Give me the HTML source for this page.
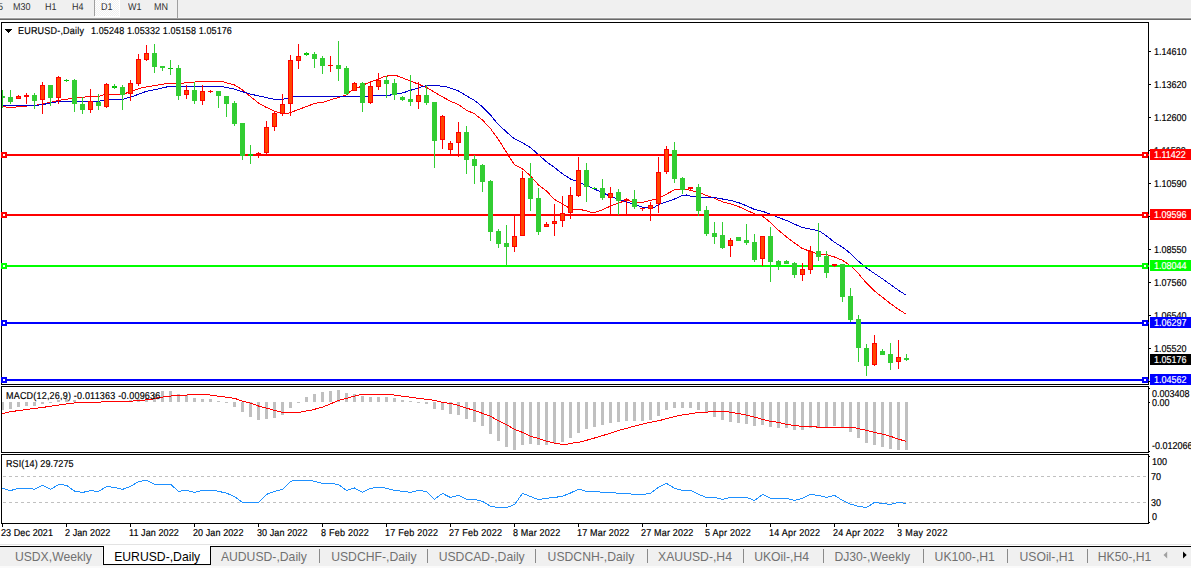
<!DOCTYPE html>
<html><head><meta charset="utf-8"><title>EURUSD-,Daily</title>
<style>
html,body{margin:0;padding:0;background:#fff;}
html{overflow:hidden;width:1191px;height:568px;}
#root{position:absolute;left:0;top:0;width:1191px;height:568px;overflow:hidden;}
body{width:1191px;height:568px;overflow:hidden;position:relative;font-family:"Liberation Sans",sans-serif;}
.t{position:absolute;white-space:nowrap;line-height:1.2;font-family:"Liberation Sans",sans-serif;}
.g{text-rendering:geometricPrecision;-webkit-text-stroke:0.18px currentColor;}
svg{position:absolute;left:0;top:0;}
#tb{position:absolute;left:0;top:0;width:1191px;height:17px;background:#f0f0f0;}
#tbl1{position:absolute;left:0;top:17px;width:1191px;height:1px;background:#f6f6f6;}
#tbl2{position:absolute;left:0;top:18px;width:1191px;height:1px;background:#a0a0a0;}
#tbl3{position:absolute;left:0;top:19px;width:1191px;height:1px;background:#696969;}
#d1{position:absolute;left:95px;top:0;width:24px;height:16px;background-color:#f0f0f0;background-image:conic-gradient(#fff 25%,#f0f0f0 0 50%,#fff 0 75%,#f0f0f0 0);background-size:2px 2px;border-right:1px solid #fff;border-bottom:1px solid #fff;}
.vs{position:absolute;top:0;width:1px;background:#a0a0a0;}
#tabbar{position:absolute;left:0;top:547px;width:1191px;height:19px;background:#f0f0f0;}
#tabline{position:absolute;left:0;top:546px;width:1191px;height:1px;background:#000;}
#tabl0{position:absolute;left:0;top:544px;width:1191px;height:1px;background:#e3e3e3;}
#tabbot{position:absolute;left:0;top:566px;width:1191px;height:2px;background:#fafafa;}
#act{position:absolute;left:103px;top:546px;width:106px;height:18px;background:#fff;border:1px solid #000;border-top:none;}
#actw{position:absolute;left:104px;top:545px;width:106px;height:2px;background:#fff;}
#actgap{position:absolute;left:102px;top:547px;width:1px;height:18px;background:#f8f8f8;}
</style></head><body><div id="root">
<div id="tb"></div><div id="tbl1"></div><div id="tbl2"></div><div id="tbl3"></div>
<div id="d1"></div>
<div class="vs" style="left:94px;height:16px"></div><div class="vs" style="left:177px;height:18px"></div>
<svg id="g1" width="1191" height="568" viewBox="0 0 1191 568" shape-rendering="crispEdges">
<rect x="1" y="22" width="1148" height="1" fill="#000"/>
<rect x="1" y="384" width="1148" height="1" fill="#000"/>
<rect x="1" y="22" width="1" height="363" fill="#000"/>
<rect x="1148" y="22" width="1" height="363" fill="#000"/>
<rect x="1" y="386" width="1148" height="1" fill="#000"/>
<rect x="1" y="452" width="1148" height="1" fill="#000"/>
<rect x="1" y="386" width="1" height="67" fill="#000"/>
<rect x="1148" y="386" width="1" height="67" fill="#000"/>
<rect x="1" y="454" width="1148" height="1" fill="#000"/>
<rect x="1" y="523" width="1148" height="1" fill="#000"/>
<rect x="1" y="454" width="1" height="70" fill="#000"/>
<rect x="1148" y="454" width="1" height="70" fill="#000"/>
<clipPath id="c1"><rect x="2" y="23" width="1146" height="361"/></clipPath>
<g clip-path="url(#c1)">
<polyline points="2.5,106.5 10.5,107.6 20.5,106.5 34.5,105.4 42.5,104.0 50.5,102.3 58.5,100.4 66.5,99.3 74.5,97.6 82.5,97.2 90.5,96.6 98.5,96.6 106.5,94.0 122.5,94.0 130.5,92.0 138.5,88.7 146.5,86.8 150.5,86.3 158.5,85.0 166.5,83.5 174.5,83.2 182.5,83.2 190.5,82.4 206.5,81.1 220.5,81.1 226.5,82.8 234.5,85.0 242.5,89.9 250.5,96.6 258.5,103.0 266.5,107.5 274.5,111.1 278.5,112.5 282.5,114.0 286.5,113.7 290.5,112.5 298.5,109.5 306.5,106.5 310.5,105.0 314.5,103.2 322.5,102.5 330.5,99.7 338.5,97.6 343.5,95.9 346.5,94.8 350.5,91.3 354.5,89.2 358.5,87.5 362.5,85.6 366.5,83.5 370.5,82.0 374.5,80.4 378.5,79.0 382.5,77.2 386.5,76.2 390.5,75.4 394.5,75.4 398.5,76.2 402.5,77.9 410.5,81.0 418.5,84.2 426.5,87.4 434.5,92.2 442.5,96.9 450.5,101.2 458.5,104.6 466.5,110.3 474.5,113.8 482.5,120.1 490.5,128.6 498.5,139.6 506.5,152.4 510.5,158.8 514.5,164.6 522.5,168.9 530.5,175.9 538.5,185.0 546.5,191.0 554.5,199.5 562.5,203.9 570.5,209.0 574.5,209.4 578.5,209.2 586.5,210.8 590.5,212.1 594.5,212.5 598.5,211.1 602.5,209.7 610.5,206.1 618.5,203.0 626.5,200.4 630.5,201.1 634.5,202.5 642.5,202.5 650.5,200.4 658.5,198.3 666.5,194.1 674.5,189.9 678.5,189.2 686.5,189.2 690.5,190.6 698.5,192.0 706.5,195.5 714.5,198.3 722.5,201.8 730.5,203.8 738.5,206.5 746.5,210.2 754.5,213.8 762.5,216.2 770.5,222.5 778.5,230.3 786.5,236.9 794.5,243.0 802.5,248.6 806.5,250.0 810.5,251.1 814.5,252.8 818.5,254.2 826.5,254.6 834.5,257.0 842.5,260.3 850.5,265.8 858.5,273.7 866.5,283.2 874.5,291.0 882.5,297.3 890.5,303.7 898.5,309.3 906.5,314.4" fill="none" stroke="#ff0000" stroke-width="1"/>
<polyline points="2.5,105.8 34.5,105.8 50.5,103.2 58.5,101.4 98.5,101.4 106.5,99.3 122.5,99.3 130.5,97.2 146.5,91.3 150.5,90.6 158.5,88.9 166.5,87.0 170.5,86.3 220.5,86.3 226.5,87.5 234.5,89.2 242.5,91.7 250.5,94.1 258.5,95.9 266.5,97.6 274.5,99.3 282.5,99.3 286.5,98.7 290.5,96.9 296.5,96.2 372.5,96.2 374.5,95.0 390.5,95.0 394.5,94.0 402.5,93.0 410.5,90.3 418.5,88.0 422.5,86.6 426.5,85.6 430.5,85.4 444.5,86.3 450.5,88.2 458.5,91.0 466.5,95.8 474.5,100.4 482.5,106.8 490.5,115.0 494.5,120.1 498.5,124.4 506.5,132.1 514.5,138.9 522.5,142.7 530.5,147.6 538.5,154.7 546.5,161.8 554.5,167.5 562.5,173.8 570.5,179.0 578.5,182.1 586.5,185.6 594.5,189.2 602.5,192.5 610.5,196.5 618.5,199.3 626.5,201.8 634.5,204.6 642.5,207.2 650.5,207.9 654.5,207.2 658.5,204.6 666.5,201.8 674.5,199.0 682.5,195.5 686.5,195.0 690.5,196.2 698.5,196.2 702.5,197.6 714.5,197.6 722.5,199.0 730.5,200.4 738.5,202.6 746.5,205.8 754.5,209.4 762.5,211.3 770.5,214.1 778.5,217.6 786.5,220.4 794.5,224.2 802.5,227.5 810.5,229.2 818.5,230.7 822.5,233.1 826.5,235.9 834.5,242.3 842.5,247.2 850.5,253.5 858.5,261.3 866.5,268.0 874.5,273.6 882.5,278.8 890.5,284.6 898.5,290.3 906.5,295.5" fill="none" stroke="#0000cd" stroke-width="1"/>
</g>
<rect x="1" y="154" width="1148" height="2" fill="#ff0000"/>
<rect x="1" y="152" width="6" height="6" fill="#ff0000"/>
<rect x="3" y="154" width="2" height="2" fill="#fff"/>
<rect x="1142" y="152" width="6" height="6" fill="#ff0000"/>
<rect x="1144" y="154" width="2" height="2" fill="#fff"/>
<rect x="1" y="214" width="1148" height="2" fill="#ff0000"/>
<rect x="1" y="212" width="6" height="6" fill="#ff0000"/>
<rect x="3" y="214" width="2" height="2" fill="#fff"/>
<rect x="1142" y="212" width="6" height="6" fill="#ff0000"/>
<rect x="1144" y="214" width="2" height="2" fill="#fff"/>
<rect x="1" y="265" width="1148" height="2" fill="#00ff00"/>
<rect x="1" y="263" width="6" height="6" fill="#00ff00"/>
<rect x="3" y="265" width="2" height="2" fill="#fff"/>
<rect x="1142" y="263" width="6" height="6" fill="#00ff00"/>
<rect x="1144" y="265" width="2" height="2" fill="#fff"/>
<rect x="1" y="322" width="1148" height="2" fill="#0000ff"/>
<rect x="1" y="320" width="6" height="6" fill="#0000ff"/>
<rect x="3" y="322" width="2" height="2" fill="#fff"/>
<rect x="1142" y="320" width="6" height="6" fill="#0000ff"/>
<rect x="1144" y="322" width="2" height="2" fill="#fff"/>
<rect x="1" y="379" width="1148" height="2" fill="#0000ff"/>
<rect x="1" y="377" width="6" height="6" fill="#0000ff"/>
<rect x="3" y="379" width="2" height="2" fill="#fff"/>
<rect x="1142" y="377" width="6" height="6" fill="#0000ff"/>
<rect x="1144" y="379" width="2" height="2" fill="#fff"/>
<g clip-path="url(#c1)">
<rect x="2" y="90" width="1" height="18" fill="#32cd32"/>
<rect x="0" y="96" width="5" height="2" fill="#32cd32"/>
<rect x="10" y="90" width="1" height="14" fill="#32cd32"/>
<rect x="8" y="97" width="5" height="5" fill="#32cd32"/>
<rect x="18" y="95" width="1" height="4" fill="#ff0000"/>
<rect x="16" y="96" width="5" height="3" fill="#ff0000"/>
<rect x="17" y="97" width="3" height="1" fill="#ff4500"/>
<rect x="26" y="93" width="1" height="11" fill="#ff0000"/>
<rect x="24" y="95" width="5" height="2" fill="#ff0000"/>
<rect x="34" y="93" width="1" height="16" fill="#32cd32"/>
<rect x="32" y="95" width="5" height="6" fill="#32cd32"/>
<rect x="42" y="82" width="1" height="32" fill="#ff0000"/>
<rect x="40" y="85" width="5" height="15" fill="#ff0000"/>
<rect x="41" y="86" width="3" height="13" fill="#ff4500"/>
<rect x="50" y="85" width="1" height="21" fill="#32cd32"/>
<rect x="48" y="85" width="5" height="13" fill="#32cd32"/>
<rect x="58" y="76" width="1" height="28" fill="#ff0000"/>
<rect x="56" y="77" width="5" height="21" fill="#ff0000"/>
<rect x="57" y="78" width="3" height="19" fill="#ff4500"/>
<rect x="66" y="79" width="1" height="3" fill="#32cd32"/>
<rect x="64" y="80" width="5" height="1" fill="#00c000"/>
<rect x="66" y="80" width="1" height="1" fill="#32cd32"/>
<rect x="74" y="79" width="1" height="33" fill="#32cd32"/>
<rect x="72" y="80" width="5" height="24" fill="#32cd32"/>
<rect x="82" y="97" width="1" height="17" fill="#32cd32"/>
<rect x="80" y="104" width="5" height="6" fill="#32cd32"/>
<rect x="90" y="89" width="1" height="24" fill="#ff0000"/>
<rect x="88" y="101" width="5" height="9" fill="#ff0000"/>
<rect x="89" y="102" width="3" height="7" fill="#ff4500"/>
<rect x="98" y="94" width="1" height="16" fill="#32cd32"/>
<rect x="96" y="102" width="5" height="4" fill="#32cd32"/>
<rect x="106" y="83" width="1" height="25" fill="#ff0000"/>
<rect x="104" y="84" width="5" height="23" fill="#ff0000"/>
<rect x="105" y="85" width="3" height="21" fill="#ff4500"/>
<rect x="114" y="84" width="1" height="5" fill="#32cd32"/>
<rect x="112" y="86" width="5" height="2" fill="#00c000"/>
<rect x="114" y="86" width="1" height="2" fill="#32cd32"/>
<rect x="122" y="85" width="1" height="25" fill="#32cd32"/>
<rect x="120" y="87" width="5" height="8" fill="#32cd32"/>
<rect x="130" y="80" width="1" height="21" fill="#ff0000"/>
<rect x="128" y="83" width="5" height="11" fill="#ff0000"/>
<rect x="129" y="84" width="3" height="9" fill="#ff4500"/>
<rect x="138" y="54" width="1" height="32" fill="#ff0000"/>
<rect x="136" y="59" width="5" height="25" fill="#ff0000"/>
<rect x="137" y="60" width="3" height="23" fill="#ff4500"/>
<rect x="146" y="45" width="1" height="16" fill="#ff0000"/>
<rect x="144" y="53" width="5" height="7" fill="#ff0000"/>
<rect x="145" y="54" width="3" height="5" fill="#ff4500"/>
<rect x="154" y="44" width="1" height="29" fill="#32cd32"/>
<rect x="152" y="53" width="5" height="14" fill="#32cd32"/>
<rect x="162" y="66" width="1" height="5" fill="#32cd32"/>
<rect x="160" y="66" width="5" height="2" fill="#32cd32"/>
<rect x="170" y="60" width="1" height="15" fill="#32cd32"/>
<rect x="168" y="68" width="5" height="1" fill="#00c000"/>
<rect x="170" y="68" width="1" height="1" fill="#32cd32"/>
<rect x="178" y="65" width="1" height="35" fill="#32cd32"/>
<rect x="176" y="68" width="5" height="28" fill="#32cd32"/>
<rect x="186" y="85" width="1" height="14" fill="#ff0000"/>
<rect x="184" y="90" width="5" height="5" fill="#ff0000"/>
<rect x="185" y="91" width="3" height="3" fill="#ff4500"/>
<rect x="194" y="82" width="1" height="22" fill="#32cd32"/>
<rect x="192" y="90" width="5" height="11" fill="#32cd32"/>
<rect x="202" y="85" width="1" height="20" fill="#ff0000"/>
<rect x="200" y="91" width="5" height="10" fill="#ff0000"/>
<rect x="201" y="92" width="3" height="8" fill="#ff4500"/>
<rect x="210" y="90" width="1" height="3" fill="#ff0000"/>
<rect x="208" y="91" width="5" height="1" fill="#ff0000"/>
<rect x="218" y="91" width="1" height="17" fill="#32cd32"/>
<rect x="216" y="91" width="5" height="5" fill="#32cd32"/>
<rect x="226" y="96" width="1" height="21" fill="#32cd32"/>
<rect x="224" y="96" width="5" height="8" fill="#32cd32"/>
<rect x="234" y="101" width="1" height="25" fill="#32cd32"/>
<rect x="232" y="103" width="5" height="21" fill="#32cd32"/>
<rect x="242" y="123" width="1" height="37" fill="#32cd32"/>
<rect x="240" y="123" width="5" height="33" fill="#32cd32"/>
<rect x="250" y="145" width="1" height="19" fill="#32cd32"/>
<rect x="248" y="154" width="5" height="2" fill="#00c000"/>
<rect x="250" y="154" width="1" height="2" fill="#32cd32"/>
<rect x="258" y="152" width="1" height="6" fill="#ff0000"/>
<rect x="256" y="153" width="5" height="2" fill="#ff0000"/>
<rect x="266" y="121" width="1" height="33" fill="#ff0000"/>
<rect x="264" y="127" width="5" height="26" fill="#ff0000"/>
<rect x="265" y="128" width="3" height="24" fill="#ff4500"/>
<rect x="274" y="111" width="1" height="20" fill="#ff0000"/>
<rect x="272" y="113" width="5" height="14" fill="#ff0000"/>
<rect x="273" y="114" width="3" height="12" fill="#ff4500"/>
<rect x="282" y="94" width="1" height="22" fill="#ff0000"/>
<rect x="280" y="104" width="5" height="10" fill="#ff0000"/>
<rect x="281" y="105" width="3" height="8" fill="#ff4500"/>
<rect x="290" y="55" width="1" height="61" fill="#ff0000"/>
<rect x="288" y="60" width="5" height="44" fill="#ff0000"/>
<rect x="289" y="61" width="3" height="42" fill="#ff4500"/>
<rect x="298" y="44" width="1" height="25" fill="#ff0000"/>
<rect x="296" y="56" width="5" height="5" fill="#ff0000"/>
<rect x="297" y="57" width="3" height="3" fill="#ff4500"/>
<rect x="306" y="52" width="1" height="4" fill="#32cd32"/>
<rect x="304" y="53" width="5" height="2" fill="#00c000"/>
<rect x="306" y="53" width="1" height="2" fill="#32cd32"/>
<rect x="314" y="52" width="1" height="16" fill="#32cd32"/>
<rect x="312" y="54" width="5" height="5" fill="#32cd32"/>
<rect x="322" y="56" width="1" height="18" fill="#32cd32"/>
<rect x="320" y="58" width="5" height="8" fill="#32cd32"/>
<rect x="330" y="56" width="1" height="16" fill="#ff0000"/>
<rect x="328" y="65" width="5" height="1" fill="#ff0000"/>
<rect x="338" y="41" width="1" height="40" fill="#32cd32"/>
<rect x="336" y="65" width="5" height="4" fill="#32cd32"/>
<rect x="346" y="66" width="1" height="29" fill="#32cd32"/>
<rect x="344" y="68" width="5" height="26" fill="#32cd32"/>
<rect x="354" y="82" width="1" height="9" fill="#ff0000"/>
<rect x="352" y="83" width="5" height="8" fill="#ff0000"/>
<rect x="353" y="84" width="3" height="6" fill="#ff4500"/>
<rect x="362" y="82" width="1" height="30" fill="#32cd32"/>
<rect x="360" y="83" width="5" height="20" fill="#32cd32"/>
<rect x="370" y="81" width="1" height="23" fill="#ff0000"/>
<rect x="368" y="86" width="5" height="17" fill="#ff0000"/>
<rect x="369" y="87" width="3" height="15" fill="#ff4500"/>
<rect x="378" y="73" width="1" height="17" fill="#ff0000"/>
<rect x="376" y="80" width="5" height="7" fill="#ff0000"/>
<rect x="377" y="81" width="3" height="5" fill="#ff4500"/>
<rect x="386" y="76" width="1" height="22" fill="#32cd32"/>
<rect x="384" y="80" width="5" height="4" fill="#32cd32"/>
<rect x="394" y="79" width="1" height="21" fill="#32cd32"/>
<rect x="392" y="83" width="5" height="12" fill="#32cd32"/>
<rect x="402" y="96" width="1" height="5" fill="#32cd32"/>
<rect x="400" y="97" width="5" height="3" fill="#32cd32"/>
<rect x="410" y="75" width="1" height="31" fill="#32cd32"/>
<rect x="408" y="99" width="5" height="3" fill="#32cd32"/>
<rect x="418" y="82" width="1" height="27" fill="#ff0000"/>
<rect x="416" y="95" width="5" height="7" fill="#ff0000"/>
<rect x="417" y="96" width="3" height="5" fill="#ff4500"/>
<rect x="426" y="85" width="1" height="20" fill="#32cd32"/>
<rect x="424" y="95" width="5" height="8" fill="#32cd32"/>
<rect x="434" y="102" width="1" height="66" fill="#32cd32"/>
<rect x="432" y="102" width="5" height="39" fill="#32cd32"/>
<rect x="442" y="115" width="1" height="34" fill="#ff0000"/>
<rect x="440" y="116" width="5" height="24" fill="#ff0000"/>
<rect x="441" y="117" width="3" height="22" fill="#ff4500"/>
<rect x="450" y="141" width="1" height="13" fill="#ff0000"/>
<rect x="448" y="143" width="5" height="7" fill="#ff0000"/>
<rect x="449" y="144" width="3" height="5" fill="#ff4500"/>
<rect x="458" y="122" width="1" height="35" fill="#ff0000"/>
<rect x="456" y="132" width="5" height="11" fill="#ff0000"/>
<rect x="457" y="133" width="3" height="9" fill="#ff4500"/>
<rect x="466" y="126" width="1" height="48" fill="#32cd32"/>
<rect x="464" y="132" width="5" height="28" fill="#32cd32"/>
<rect x="474" y="155" width="1" height="29" fill="#32cd32"/>
<rect x="472" y="159" width="5" height="7" fill="#32cd32"/>
<rect x="482" y="164" width="1" height="28" fill="#32cd32"/>
<rect x="480" y="165" width="5" height="17" fill="#32cd32"/>
<rect x="490" y="180" width="1" height="61" fill="#32cd32"/>
<rect x="488" y="181" width="5" height="51" fill="#32cd32"/>
<rect x="498" y="229" width="1" height="19" fill="#32cd32"/>
<rect x="496" y="231" width="5" height="13" fill="#32cd32"/>
<rect x="506" y="225" width="1" height="41" fill="#32cd32"/>
<rect x="504" y="243" width="5" height="4" fill="#32cd32"/>
<rect x="514" y="215" width="1" height="37" fill="#ff0000"/>
<rect x="512" y="236" width="5" height="11" fill="#ff0000"/>
<rect x="513" y="237" width="3" height="9" fill="#ff4500"/>
<rect x="522" y="171" width="1" height="65" fill="#ff0000"/>
<rect x="520" y="178" width="5" height="58" fill="#ff0000"/>
<rect x="521" y="179" width="3" height="56" fill="#ff4500"/>
<rect x="530" y="163" width="1" height="48" fill="#32cd32"/>
<rect x="528" y="178" width="5" height="21" fill="#32cd32"/>
<rect x="538" y="188" width="1" height="47" fill="#32cd32"/>
<rect x="536" y="198" width="5" height="34" fill="#32cd32"/>
<rect x="546" y="222" width="1" height="5" fill="#ff0000"/>
<rect x="544" y="224" width="5" height="3" fill="#ff0000"/>
<rect x="545" y="225" width="3" height="1" fill="#ff4500"/>
<rect x="554" y="204" width="1" height="32" fill="#ff0000"/>
<rect x="552" y="221" width="5" height="3" fill="#ff0000"/>
<rect x="553" y="222" width="3" height="1" fill="#ff4500"/>
<rect x="562" y="196" width="1" height="31" fill="#ff0000"/>
<rect x="560" y="213" width="5" height="8" fill="#ff0000"/>
<rect x="561" y="214" width="3" height="6" fill="#ff4500"/>
<rect x="570" y="187" width="1" height="32" fill="#ff0000"/>
<rect x="568" y="195" width="5" height="18" fill="#ff0000"/>
<rect x="569" y="196" width="3" height="16" fill="#ff4500"/>
<rect x="578" y="157" width="1" height="40" fill="#ff0000"/>
<rect x="576" y="170" width="5" height="26" fill="#ff0000"/>
<rect x="577" y="171" width="3" height="24" fill="#ff4500"/>
<rect x="586" y="163" width="1" height="39" fill="#32cd32"/>
<rect x="584" y="170" width="5" height="17" fill="#32cd32"/>
<rect x="594" y="187" width="1" height="2" fill="#32cd32"/>
<rect x="592" y="188" width="5" height="1" fill="#00c000"/>
<rect x="594" y="188" width="1" height="1" fill="#32cd32"/>
<rect x="602" y="179" width="1" height="21" fill="#32cd32"/>
<rect x="600" y="188" width="5" height="10" fill="#32cd32"/>
<rect x="610" y="187" width="1" height="27" fill="#ff0000"/>
<rect x="608" y="193" width="5" height="5" fill="#ff0000"/>
<rect x="609" y="194" width="3" height="3" fill="#ff4500"/>
<rect x="618" y="189" width="1" height="26" fill="#32cd32"/>
<rect x="616" y="192" width="5" height="9" fill="#32cd32"/>
<rect x="626" y="198" width="1" height="16" fill="#ff0000"/>
<rect x="624" y="199" width="5" height="2" fill="#ff0000"/>
<rect x="634" y="190" width="1" height="19" fill="#32cd32"/>
<rect x="632" y="199" width="5" height="8" fill="#32cd32"/>
<rect x="642" y="208" width="1" height="3" fill="#ff0000"/>
<rect x="640" y="208" width="5" height="1" fill="#ff0000"/>
<rect x="650" y="202" width="1" height="19" fill="#ff0000"/>
<rect x="648" y="205" width="5" height="4" fill="#ff0000"/>
<rect x="649" y="206" width="3" height="2" fill="#ff4500"/>
<rect x="658" y="157" width="1" height="56" fill="#ff0000"/>
<rect x="656" y="172" width="5" height="32" fill="#ff0000"/>
<rect x="657" y="173" width="3" height="30" fill="#ff4500"/>
<rect x="666" y="146" width="1" height="28" fill="#ff0000"/>
<rect x="664" y="149" width="5" height="23" fill="#ff0000"/>
<rect x="665" y="150" width="3" height="21" fill="#ff4500"/>
<rect x="674" y="142" width="1" height="41" fill="#32cd32"/>
<rect x="672" y="150" width="5" height="29" fill="#32cd32"/>
<rect x="682" y="177" width="1" height="17" fill="#32cd32"/>
<rect x="680" y="178" width="5" height="12" fill="#32cd32"/>
<rect x="690" y="187" width="1" height="3" fill="#ff0000"/>
<rect x="688" y="187" width="5" height="2" fill="#ff0000"/>
<rect x="698" y="184" width="1" height="32" fill="#32cd32"/>
<rect x="696" y="187" width="5" height="24" fill="#32cd32"/>
<rect x="706" y="206" width="1" height="30" fill="#32cd32"/>
<rect x="704" y="210" width="5" height="24" fill="#32cd32"/>
<rect x="714" y="222" width="1" height="22" fill="#32cd32"/>
<rect x="712" y="233" width="5" height="4" fill="#32cd32"/>
<rect x="722" y="222" width="1" height="27" fill="#32cd32"/>
<rect x="720" y="235" width="5" height="13" fill="#32cd32"/>
<rect x="730" y="238" width="1" height="19" fill="#ff0000"/>
<rect x="728" y="240" width="5" height="6" fill="#ff0000"/>
<rect x="729" y="241" width="3" height="4" fill="#ff4500"/>
<rect x="738" y="237" width="1" height="4" fill="#32cd32"/>
<rect x="736" y="237" width="5" height="4" fill="#32cd32"/>
<rect x="746" y="224" width="1" height="21" fill="#32cd32"/>
<rect x="744" y="240" width="5" height="3" fill="#32cd32"/>
<rect x="754" y="234" width="1" height="28" fill="#32cd32"/>
<rect x="752" y="242" width="5" height="18" fill="#32cd32"/>
<rect x="762" y="236" width="1" height="30" fill="#ff0000"/>
<rect x="760" y="236" width="5" height="23" fill="#ff0000"/>
<rect x="761" y="237" width="3" height="21" fill="#ff4500"/>
<rect x="770" y="227" width="1" height="55" fill="#32cd32"/>
<rect x="768" y="236" width="5" height="26" fill="#32cd32"/>
<rect x="778" y="260" width="1" height="10" fill="#32cd32"/>
<rect x="776" y="261" width="5" height="4" fill="#32cd32"/>
<rect x="786" y="260" width="1" height="4" fill="#32cd32"/>
<rect x="784" y="261" width="5" height="3" fill="#32cd32"/>
<rect x="794" y="262" width="1" height="16" fill="#32cd32"/>
<rect x="792" y="263" width="5" height="12" fill="#32cd32"/>
<rect x="802" y="263" width="1" height="18" fill="#ff0000"/>
<rect x="800" y="269" width="5" height="6" fill="#ff0000"/>
<rect x="801" y="270" width="3" height="4" fill="#ff4500"/>
<rect x="810" y="246" width="1" height="28" fill="#ff0000"/>
<rect x="808" y="251" width="5" height="19" fill="#ff0000"/>
<rect x="809" y="252" width="3" height="17" fill="#ff4500"/>
<rect x="818" y="223" width="1" height="38" fill="#32cd32"/>
<rect x="816" y="251" width="5" height="6" fill="#32cd32"/>
<rect x="826" y="251" width="1" height="27" fill="#32cd32"/>
<rect x="824" y="256" width="5" height="17" fill="#32cd32"/>
<rect x="834" y="264" width="1" height="3" fill="#ff0000"/>
<rect x="832" y="264" width="5" height="2" fill="#ff0000"/>
<rect x="842" y="264" width="1" height="38" fill="#32cd32"/>
<rect x="840" y="264" width="5" height="33" fill="#32cd32"/>
<rect x="850" y="288" width="1" height="34" fill="#32cd32"/>
<rect x="848" y="296" width="5" height="24" fill="#32cd32"/>
<rect x="858" y="315" width="1" height="47" fill="#32cd32"/>
<rect x="856" y="319" width="5" height="29" fill="#32cd32"/>
<rect x="866" y="344" width="1" height="32" fill="#32cd32"/>
<rect x="864" y="348" width="5" height="18" fill="#32cd32"/>
<rect x="874" y="335" width="1" height="31" fill="#ff0000"/>
<rect x="872" y="343" width="5" height="22" fill="#ff0000"/>
<rect x="873" y="344" width="3" height="20" fill="#ff4500"/>
<rect x="882" y="349" width="1" height="6" fill="#32cd32"/>
<rect x="880" y="351" width="5" height="4" fill="#32cd32"/>
<rect x="890" y="343" width="1" height="27" fill="#32cd32"/>
<rect x="888" y="354" width="5" height="9" fill="#32cd32"/>
<rect x="898" y="340" width="1" height="29" fill="#ff0000"/>
<rect x="896" y="357" width="5" height="5" fill="#ff0000"/>
<rect x="897" y="358" width="3" height="3" fill="#ff4500"/>
<rect x="906" y="354" width="1" height="7" fill="#32cd32"/>
<rect x="904" y="358" width="5" height="2" fill="#32cd32"/>
</g>
<rect x="2" y="402" width="2" height="8" fill="#c0c0c0"/>
<rect x="9" y="402" width="3" height="7" fill="#c0c0c0"/>
<rect x="17" y="402" width="3" height="5" fill="#c0c0c0"/>
<rect x="25" y="402" width="3" height="4" fill="#c0c0c0"/>
<rect x="33" y="402" width="3" height="4" fill="#c0c0c0"/>
<rect x="41" y="402" width="3" height="2" fill="#c0c0c0"/>
<rect x="49" y="402" width="3" height="1" fill="#c0c0c0"/>
<rect x="57" y="400" width="3" height="2" fill="#c0c0c0"/>
<rect x="65" y="399" width="3" height="3" fill="#c0c0c0"/>
<rect x="73" y="400" width="3" height="2" fill="#c0c0c0"/>
<rect x="97" y="402" width="3" height="1" fill="#c0c0c0"/>
<rect x="113" y="401" width="3" height="1" fill="#c0c0c0"/>
<rect x="121" y="401" width="3" height="1" fill="#c0c0c0"/>
<rect x="129" y="400" width="3" height="2" fill="#c0c0c0"/>
<rect x="137" y="399" width="3" height="3" fill="#c0c0c0"/>
<rect x="145" y="398" width="3" height="4" fill="#c0c0c0"/>
<rect x="153" y="394" width="3" height="8" fill="#c0c0c0"/>
<rect x="161" y="391" width="3" height="11" fill="#c0c0c0"/>
<rect x="169" y="391" width="3" height="11" fill="#c0c0c0"/>
<rect x="177" y="394" width="3" height="8" fill="#c0c0c0"/>
<rect x="185" y="395" width="3" height="7" fill="#c0c0c0"/>
<rect x="193" y="398" width="3" height="4" fill="#c0c0c0"/>
<rect x="201" y="399" width="3" height="3" fill="#c0c0c0"/>
<rect x="209" y="399" width="3" height="3" fill="#c0c0c0"/>
<rect x="217" y="401" width="3" height="1" fill="#c0c0c0"/>
<rect x="225" y="402" width="3" height="1" fill="#c0c0c0"/>
<rect x="233" y="402" width="3" height="5" fill="#c0c0c0"/>
<rect x="241" y="402" width="3" height="10" fill="#c0c0c0"/>
<rect x="249" y="402" width="3" height="15" fill="#c0c0c0"/>
<rect x="257" y="402" width="3" height="18" fill="#c0c0c0"/>
<rect x="265" y="402" width="3" height="17" fill="#c0c0c0"/>
<rect x="273" y="402" width="3" height="16" fill="#c0c0c0"/>
<rect x="281" y="402" width="3" height="13" fill="#c0c0c0"/>
<rect x="289" y="402" width="3" height="6" fill="#c0c0c0"/>
<rect x="297" y="402" width="3" height="1" fill="#c0c0c0"/>
<rect x="305" y="397" width="3" height="5" fill="#c0c0c0"/>
<rect x="313" y="394" width="3" height="8" fill="#c0c0c0"/>
<rect x="321" y="392" width="3" height="10" fill="#c0c0c0"/>
<rect x="329" y="391" width="3" height="11" fill="#c0c0c0"/>
<rect x="337" y="390" width="3" height="12" fill="#c0c0c0"/>
<rect x="345" y="393" width="3" height="9" fill="#c0c0c0"/>
<rect x="353" y="394" width="3" height="8" fill="#c0c0c0"/>
<rect x="361" y="396" width="3" height="6" fill="#c0c0c0"/>
<rect x="369" y="397" width="3" height="5" fill="#c0c0c0"/>
<rect x="377" y="397" width="3" height="5" fill="#c0c0c0"/>
<rect x="385" y="397" width="3" height="5" fill="#c0c0c0"/>
<rect x="393" y="398" width="3" height="4" fill="#c0c0c0"/>
<rect x="401" y="400" width="3" height="2" fill="#c0c0c0"/>
<rect x="409" y="401" width="3" height="1" fill="#c0c0c0"/>
<rect x="417" y="402" width="3" height="1" fill="#c0c0c0"/>
<rect x="425" y="402" width="3" height="2" fill="#c0c0c0"/>
<rect x="433" y="402" width="3" height="7" fill="#c0c0c0"/>
<rect x="441" y="402" width="3" height="8" fill="#c0c0c0"/>
<rect x="449" y="402" width="3" height="12" fill="#c0c0c0"/>
<rect x="457" y="402" width="3" height="13" fill="#c0c0c0"/>
<rect x="465" y="402" width="3" height="17" fill="#c0c0c0"/>
<rect x="473" y="402" width="3" height="20" fill="#c0c0c0"/>
<rect x="481" y="402" width="3" height="24" fill="#c0c0c0"/>
<rect x="489" y="402" width="3" height="32" fill="#c0c0c0"/>
<rect x="497" y="402" width="3" height="39" fill="#c0c0c0"/>
<rect x="505" y="402" width="3" height="45" fill="#c0c0c0"/>
<rect x="513" y="402" width="3" height="48" fill="#c0c0c0"/>
<rect x="521" y="402" width="3" height="43" fill="#c0c0c0"/>
<rect x="529" y="402" width="3" height="42" fill="#c0c0c0"/>
<rect x="537" y="402" width="3" height="43" fill="#c0c0c0"/>
<rect x="545" y="402" width="3" height="43" fill="#c0c0c0"/>
<rect x="553" y="402" width="3" height="41" fill="#c0c0c0"/>
<rect x="561" y="402" width="3" height="40" fill="#c0c0c0"/>
<rect x="569" y="402" width="3" height="36" fill="#c0c0c0"/>
<rect x="577" y="402" width="3" height="31" fill="#c0c0c0"/>
<rect x="585" y="402" width="3" height="27" fill="#c0c0c0"/>
<rect x="593" y="402" width="3" height="25" fill="#c0c0c0"/>
<rect x="601" y="402" width="3" height="23" fill="#c0c0c0"/>
<rect x="609" y="402" width="3" height="21" fill="#c0c0c0"/>
<rect x="617" y="402" width="3" height="20" fill="#c0c0c0"/>
<rect x="625" y="402" width="3" height="19" fill="#c0c0c0"/>
<rect x="633" y="402" width="3" height="19" fill="#c0c0c0"/>
<rect x="641" y="402" width="3" height="19" fill="#c0c0c0"/>
<rect x="649" y="402" width="3" height="18" fill="#c0c0c0"/>
<rect x="657" y="402" width="3" height="14" fill="#c0c0c0"/>
<rect x="665" y="402" width="3" height="8" fill="#c0c0c0"/>
<rect x="673" y="402" width="3" height="6" fill="#c0c0c0"/>
<rect x="681" y="402" width="3" height="6" fill="#c0c0c0"/>
<rect x="689" y="402" width="3" height="6" fill="#c0c0c0"/>
<rect x="697" y="402" width="3" height="8" fill="#c0c0c0"/>
<rect x="705" y="402" width="3" height="11" fill="#c0c0c0"/>
<rect x="713" y="402" width="3" height="15" fill="#c0c0c0"/>
<rect x="721" y="402" width="3" height="18" fill="#c0c0c0"/>
<rect x="729" y="402" width="3" height="20" fill="#c0c0c0"/>
<rect x="737" y="402" width="3" height="21" fill="#c0c0c0"/>
<rect x="745" y="402" width="3" height="22" fill="#c0c0c0"/>
<rect x="753" y="402" width="3" height="24" fill="#c0c0c0"/>
<rect x="761" y="402" width="3" height="23" fill="#c0c0c0"/>
<rect x="769" y="402" width="3" height="25" fill="#c0c0c0"/>
<rect x="777" y="402" width="3" height="26" fill="#c0c0c0"/>
<rect x="785" y="402" width="3" height="26" fill="#c0c0c0"/>
<rect x="793" y="402" width="3" height="28" fill="#c0c0c0"/>
<rect x="801" y="402" width="3" height="28" fill="#c0c0c0"/>
<rect x="809" y="402" width="3" height="26" fill="#c0c0c0"/>
<rect x="817" y="402" width="3" height="25" fill="#c0c0c0"/>
<rect x="825" y="402" width="3" height="25" fill="#c0c0c0"/>
<rect x="833" y="402" width="3" height="24" fill="#c0c0c0"/>
<rect x="841" y="402" width="3" height="25" fill="#c0c0c0"/>
<rect x="849" y="402" width="3" height="30" fill="#c0c0c0"/>
<rect x="857" y="402" width="3" height="36" fill="#c0c0c0"/>
<rect x="865" y="402" width="3" height="41" fill="#c0c0c0"/>
<rect x="873" y="402" width="3" height="43" fill="#c0c0c0"/>
<rect x="881" y="402" width="3" height="45" fill="#c0c0c0"/>
<rect x="889" y="402" width="3" height="47" fill="#c0c0c0"/>
<rect x="897" y="402" width="3" height="48" fill="#c0c0c0"/>
<rect x="905" y="402" width="3" height="48" fill="#c0c0c0"/>
<polyline points="2.5,413.6 10.5,411.7 18.5,410.6 26.5,409.5 34.5,408.4 42.5,407.5 50.5,406.2 58.5,405.1 66.5,404.0 74.5,402.9 82.5,402.1 100.5,402.1 102.5,401.4 132.5,401.4 134.5,400.4 148.5,399.9 152.5,399.2 158.5,397.6 166.5,396.6 174.5,395.5 186.5,395.2 190.5,394.1 206.5,394.1 210.5,395.2 218.5,396.2 226.5,397.2 234.5,398.3 242.5,401.1 250.5,403.2 258.5,406.0 266.5,408.2 274.5,410.3 282.5,412.4 298.5,412.4 302.5,411.7 310.5,410.3 322.5,407.2 330.5,403.9 338.5,400.4 346.5,398.3 354.5,396.2 362.5,394.1 390.5,394.1 394.5,395.2 402.5,396.2 410.5,397.2 418.5,398.3 426.5,399.3 434.5,400.4 442.5,402.3 450.5,403.5 458.5,405.4 466.5,408.2 474.5,410.3 482.5,413.4 490.5,416.3 498.5,420.8 506.5,424.8 514.5,429.3 522.5,432.4 530.5,436.3 538.5,438.5 546.5,441.3 554.5,443.1 562.5,444.4 566.5,444.4 570.5,443.4 578.5,442.3 586.5,440.3 594.5,438.0 602.5,435.6 610.5,433.2 618.5,430.4 626.5,428.3 634.5,426.2 642.5,424.1 650.5,422.3 658.5,420.8 666.5,418.7 674.5,416.6 682.5,414.9 690.5,413.8 698.5,412.4 706.5,412.4 710.5,411.3 726.5,411.3 730.5,412.4 738.5,413.4 746.5,415.2 754.5,417.1 762.5,419.4 770.5,421.3 778.5,422.3 786.5,424.4 794.5,425.4 802.5,426.5 814.5,426.5 818.5,427.5 854.5,427.5 858.5,428.6 866.5,430.4 874.5,432.4 882.5,434.2 890.5,436.3 898.5,439.2 906.5,441.3" fill="none" stroke="#ff0000" stroke-width="1"/>
<line x1="3" y1="476.5" x2="1148" y2="476.5" stroke="#c0c0c0" stroke-width="1" stroke-dasharray="3 3"/>
<line x1="3" y1="502.5" x2="1148" y2="502.5" stroke="#c0c0c0" stroke-width="1" stroke-dasharray="3 3"/>
<polyline points="2.5,488.3 10.5,490.6 18.5,488.3 26.5,488.3 30.5,488.3 34.5,489.4 42.5,485.2 50.5,489.4 58.5,484.5 66.5,485.2 74.5,491.1 82.5,492.5 90.5,490.6 98.5,491.5 106.5,486.6 114.5,487.3 122.5,489.4 130.5,486.3 138.5,481.7 146.5,480.3 154.5,484.2 162.5,484.2 170.5,484.2 178.5,491.3 186.5,490.3 194.5,492.3 202.5,490.3 210.5,490.3 214.5,490.3 218.5,491.3 226.5,493.2 234.5,496.5 242.5,502.4 250.5,502.4 258.5,502.4 266.5,494.4 274.5,491.3 282.5,489.4 290.5,481.4 294.5,480.3 298.5,480.3 310.5,480.3 314.5,481.3 322.5,483.4 330.5,483.4 338.5,484.5 346.5,490.4 354.5,488.0 362.5,492.3 370.5,488.3 378.5,487.3 382.5,487.3 386.5,488.3 394.5,490.4 402.5,491.3 410.5,492.3 418.5,490.4 426.5,491.5 434.5,499.3 442.5,493.4 450.5,497.5 458.5,495.4 466.5,499.3 474.5,499.3 482.5,501.4 490.5,506.3 498.5,507.5 506.5,507.5 514.5,504.6 522.5,493.4 530.5,496.5 538.5,499.6 546.5,498.3 554.5,497.5 562.5,496.2 570.5,493.0 578.5,489.2 586.5,491.3 594.5,491.3 602.5,492.3 610.5,492.3 618.5,493.4 626.5,493.4 634.5,494.4 642.5,494.4 650.5,493.4 658.5,487.3 666.5,483.4 674.5,488.3 682.5,490.4 690.5,490.4 698.5,494.4 706.5,497.5 714.5,497.5 722.5,499.3 730.5,497.5 738.5,497.5 746.5,497.5 754.5,500.4 762.5,494.4 770.5,498.3 778.5,498.3 786.5,498.3 794.5,500.4 802.5,498.3 810.5,494.4 818.5,495.4 826.5,497.5 834.5,495.4 842.5,500.4 850.5,504.2 858.5,506.3 866.5,507.5 874.5,502.4 882.5,503.5 890.5,504.5 898.5,502.4 906.5,503.5" fill="none" stroke="#1e90ff" stroke-width="1"/>
<rect x="1149" y="51" width="2" height="1" fill="#000"/>
<rect x="1149" y="84" width="2" height="1" fill="#000"/>
<rect x="1149" y="117" width="2" height="1" fill="#000"/>
<rect x="1149" y="150" width="2" height="1" fill="#000"/>
<rect x="1149" y="183" width="2" height="1" fill="#000"/>
<rect x="1149" y="216" width="2" height="1" fill="#000"/>
<rect x="1149" y="249" width="2" height="1" fill="#000"/>
<rect x="1149" y="282" width="2" height="1" fill="#000"/>
<rect x="1149" y="315" width="2" height="1" fill="#000"/>
<rect x="1149" y="348" width="2" height="1" fill="#000"/>
<rect x="1149" y="381" width="2" height="1" fill="#000"/>
<rect x="1149" y="388" width="1" height="1" fill="#000"/>
<rect x="1149" y="402" width="1" height="1" fill="#000"/>
<rect x="1149" y="451" width="1" height="1" fill="#000"/>
<rect x="1149" y="456" width="1" height="1" fill="#000"/>
<rect x="1149" y="522" width="1" height="1" fill="#000"/>
<rect x="2" y="524" width="1" height="3" fill="#000"/>
<rect x="66" y="524" width="1" height="3" fill="#000"/>
<rect x="130" y="524" width="1" height="3" fill="#000"/>
<rect x="194" y="524" width="1" height="3" fill="#000"/>
<rect x="258" y="524" width="1" height="3" fill="#000"/>
<rect x="322" y="524" width="1" height="3" fill="#000"/>
<rect x="386" y="524" width="1" height="3" fill="#000"/>
<rect x="450" y="524" width="1" height="3" fill="#000"/>
<rect x="514" y="524" width="1" height="3" fill="#000"/>
<rect x="578" y="524" width="1" height="3" fill="#000"/>
<rect x="642" y="524" width="1" height="3" fill="#000"/>
<rect x="706" y="524" width="1" height="3" fill="#000"/>
<rect x="770" y="524" width="1" height="3" fill="#000"/>
<rect x="834" y="524" width="1" height="3" fill="#000"/>
<rect x="898" y="524" width="1" height="3" fill="#000"/>
<path d="M5 29h7l-3.5 4z" fill="#000"/>
</svg>
<div class="t g" style="left:-2px;top:2.1px;font-size:10px;color:#303030;-webkit-text-stroke:0;letter-spacing:0px;transform:scaleX(0.9);transform-origin:0 0">5</div>
<div class="t g" style="left:13.4px;top:2.1px;font-size:10px;color:#303030;-webkit-text-stroke:0;letter-spacing:0px;transform:scaleX(0.9);transform-origin:0 0">M30</div>
<div class="t g" style="left:44.8px;top:2.1px;font-size:10px;color:#303030;-webkit-text-stroke:0;letter-spacing:0px;transform:scaleX(0.9);transform-origin:0 0">H1</div>
<div class="t g" style="left:71.5px;top:2.1px;font-size:10px;color:#303030;-webkit-text-stroke:0;letter-spacing:0px;transform:scaleX(0.9);transform-origin:0 0">H4</div>
<div class="t g" style="left:100.5px;top:2.1px;font-size:10px;color:#303030;-webkit-text-stroke:0;letter-spacing:0px;transform:scaleX(0.9);transform-origin:0 0">D1</div>
<div class="t g" style="left:128.3px;top:2.1px;font-size:10px;color:#303030;-webkit-text-stroke:0;letter-spacing:0px;transform:scaleX(0.9);transform-origin:0 0">W1</div>
<div class="t g" style="left:154.4px;top:2.1px;font-size:10px;color:#303030;-webkit-text-stroke:0;letter-spacing:0px;transform:scaleX(0.9);transform-origin:0 0">MN</div>
<div class="t g" style="left:17.6px;top:26.1px;font-size:10px;color:#000;letter-spacing:0.22px;transform:scaleX(0.9);transform-origin:0 0">EURUSD-,Daily</div>
<div class="t g" style="left:90.6px;top:26.1px;font-size:10px;color:#000;letter-spacing:0.12px;transform:scaleX(0.9);transform-origin:0 0">1.05248 1.05332 1.05158 1.05176</div>
<div class="t g" style="left:1154.4px;top:47.1px;font-size:10px;color:#000;letter-spacing:0px;transform:scaleX(0.9);transform-origin:0 0">1.14610</div>
<div class="t g" style="left:1154.4px;top:80.1px;font-size:10px;color:#000;letter-spacing:0px;transform:scaleX(0.9);transform-origin:0 0">1.13620</div>
<div class="t g" style="left:1154.4px;top:113.1px;font-size:10px;color:#000;letter-spacing:0px;transform:scaleX(0.9);transform-origin:0 0">1.12600</div>
<div class="t g" style="left:1154.4px;top:146.1px;font-size:10px;color:#000;letter-spacing:0px;transform:scaleX(0.9);transform-origin:0 0">1.11590</div>
<div class="t g" style="left:1154.4px;top:179.1px;font-size:10px;color:#000;letter-spacing:0px;transform:scaleX(0.9);transform-origin:0 0">1.10590</div>
<div class="t g" style="left:1154.4px;top:245.1px;font-size:10px;color:#000;letter-spacing:0px;transform:scaleX(0.9);transform-origin:0 0">1.08550</div>
<div class="t g" style="left:1154.4px;top:278.1px;font-size:10px;color:#000;letter-spacing:0px;transform:scaleX(0.9);transform-origin:0 0">1.07560</div>
<div class="t g" style="left:1154.4px;top:311.1px;font-size:10px;color:#000;letter-spacing:0px;transform:scaleX(0.9);transform-origin:0 0">1.06540</div>
<div class="t g" style="left:1154.4px;top:344.1px;font-size:10px;color:#000;letter-spacing:0px;transform:scaleX(0.9);transform-origin:0 0">1.05520</div>
<div class="t g" style="left:6.3px;top:391.1px;font-size:10px;color:#000;letter-spacing:0.22px;transform:scaleX(0.9);transform-origin:0 0">MACD(12,26,9) -0.011363 -0.009636</div>
<div class="t g" style="left:6.4px;top:459.1px;font-size:10px;color:#000;letter-spacing:0.12px;transform:scaleX(0.9);transform-origin:0 0">RSI(14) 29.7275</div>
<div class="t g" style="left:1152px;top:389.1px;font-size:10px;color:#000;letter-spacing:0px;transform:scaleX(0.9);transform-origin:0 0">0.003408</div>
<div class="t g" style="left:1152px;top:398.1px;font-size:10px;color:#000;letter-spacing:0px;transform:scaleX(0.9);transform-origin:0 0">0.00</div>
<div class="t g" style="left:1152px;top:441.1px;font-size:10px;color:#000;letter-spacing:0px;transform:scaleX(0.9);transform-origin:0 0">-0.012066</div>
<div class="t g" style="left:1152.4px;top:457.1px;font-size:10px;color:#000;letter-spacing:0px;transform:scaleX(0.9);transform-origin:0 0">100</div>
<div class="t g" style="left:1151.3px;top:472.1px;font-size:10px;color:#000;letter-spacing:0px;transform:scaleX(0.9);transform-origin:0 0">70</div>
<div class="t g" style="left:1151px;top:498.1px;font-size:10px;color:#000;letter-spacing:0px;transform:scaleX(0.9);transform-origin:0 0">30</div>
<div class="t g" style="left:1152px;top:512.1px;font-size:10px;color:#000;letter-spacing:0px;transform:scaleX(0.9);transform-origin:0 0">0</div>
<div class="t g" style="left:1px;top:528.1px;font-size:10px;color:#000;letter-spacing:0.1px;transform:scaleX(0.9);transform-origin:0 0">23 Dec 2021</div>
<div class="t g" style="left:65px;top:528.1px;font-size:10px;color:#000;letter-spacing:0.1px;transform:scaleX(0.9);transform-origin:0 0">2 Jan 2022</div>
<div class="t g" style="left:129px;top:528.1px;font-size:10px;color:#000;letter-spacing:0.1px;transform:scaleX(0.9);transform-origin:0 0">11 Jan 2022</div>
<div class="t g" style="left:193px;top:528.1px;font-size:10px;color:#000;letter-spacing:0.1px;transform:scaleX(0.9);transform-origin:0 0">20 Jan 2022</div>
<div class="t g" style="left:257px;top:528.1px;font-size:10px;color:#000;letter-spacing:0.1px;transform:scaleX(0.9);transform-origin:0 0">30 Jan 2022</div>
<div class="t g" style="left:321px;top:528.1px;font-size:10px;color:#000;letter-spacing:0.28px;transform:scaleX(0.9);transform-origin:0 0">8 Feb 2022</div>
<div class="t g" style="left:385px;top:528.1px;font-size:10px;color:#000;letter-spacing:0.28px;transform:scaleX(0.9);transform-origin:0 0">17 Feb 2022</div>
<div class="t g" style="left:449px;top:528.1px;font-size:10px;color:#000;letter-spacing:0.28px;transform:scaleX(0.9);transform-origin:0 0">27 Feb 2022</div>
<div class="t g" style="left:513px;top:528.1px;font-size:10px;color:#000;letter-spacing:0.2px;transform:scaleX(0.9);transform-origin:0 0">8 Mar 2022</div>
<div class="t g" style="left:577px;top:528.1px;font-size:10px;color:#000;letter-spacing:0.2px;transform:scaleX(0.9);transform-origin:0 0">17 Mar 2022</div>
<div class="t g" style="left:641px;top:528.1px;font-size:10px;color:#000;letter-spacing:0.2px;transform:scaleX(0.9);transform-origin:0 0">27 Mar 2022</div>
<div class="t g" style="left:705px;top:528.1px;font-size:10px;color:#000;letter-spacing:0.27px;transform:scaleX(0.9);transform-origin:0 0">5 Apr 2022</div>
<div class="t g" style="left:769px;top:528.1px;font-size:10px;color:#000;letter-spacing:0.27px;transform:scaleX(0.9);transform-origin:0 0">14 Apr 2022</div>
<div class="t g" style="left:833px;top:528.1px;font-size:10px;color:#000;letter-spacing:0.27px;transform:scaleX(0.9);transform-origin:0 0">24 Apr 2022</div>
<div class="t g" style="left:897px;top:528.1px;font-size:10px;color:#000;letter-spacing:0.43px;transform:scaleX(0.9);transform-origin:0 0">3 May 2022</div>
<svg width="1191" height="568" viewBox="0 0 1191 568" shape-rendering="crispEdges"><rect x="1150" y="149" width="41" height="11" fill="#ff0000"/><rect x="1150" y="209" width="41" height="11" fill="#ff0000"/><rect x="1150" y="260" width="41" height="11" fill="#00ff00"/><rect x="1150" y="317" width="41" height="11" fill="#0000ff"/><rect x="1150" y="374" width="41" height="11" fill="#0000ff"/><rect x="1150" y="354" width="41" height="11" fill="#000"/></svg>
<div class="t g" style="left:1154.0px;top:150.1px;font-size:10px;color:#fff;letter-spacing:0px;transform:scaleX(0.9);transform-origin:0 0">1.11422</div>
<div class="t g" style="left:1154.0px;top:210.1px;font-size:10px;color:#fff;letter-spacing:0px;transform:scaleX(0.9);transform-origin:0 0">1.09596</div>
<div class="t g" style="left:1154.0px;top:261.1px;font-size:10px;color:#fff;letter-spacing:0px;transform:scaleX(0.9);transform-origin:0 0">1.08044</div>
<div class="t g" style="left:1154.0px;top:318.1px;font-size:10px;color:#fff;letter-spacing:0px;transform:scaleX(0.9);transform-origin:0 0">1.06297</div>
<div class="t g" style="left:1154.0px;top:375.1px;font-size:10px;color:#fff;letter-spacing:0px;transform:scaleX(0.9);transform-origin:0 0">1.04562</div>
<div class="t g" style="left:1154.0px;top:355.1px;font-size:10px;color:#fff;letter-spacing:0px;transform:scaleX(0.9);transform-origin:0 0">1.05176</div>
<div id="tabl0"></div><div id="tabline"></div><div id="tabbar"></div><div id="tabbot"></div>
<div id="actgap"></div><div id="act"></div><div id="actw"></div>
<div style="position:absolute;left:319px;top:549px;width:1px;height:14px;background:#8a8a8a"></div><div style="position:absolute;left:427px;top:549px;width:1px;height:14px;background:#8a8a8a"></div><div style="position:absolute;left:535px;top:549px;width:1px;height:14px;background:#8a8a8a"></div><div style="position:absolute;left:647px;top:549px;width:1px;height:14px;background:#8a8a8a"></div><div style="position:absolute;left:743px;top:549px;width:1px;height:14px;background:#8a8a8a"></div><div style="position:absolute;left:823px;top:549px;width:1px;height:14px;background:#8a8a8a"></div><div style="position:absolute;left:923px;top:549px;width:1px;height:14px;background:#8a8a8a"></div><div style="position:absolute;left:1007px;top:549px;width:1px;height:14px;background:#8a8a8a"></div><div style="position:absolute;left:1087px;top:549px;width:1px;height:14px;background:#8a8a8a"></div>
<div class="t" style="left:14.9px;top:549.8px;font-size:12.2px;color:#707070">USDX,Weekly</div>
<div class="t" style="left:114.2px;top:549.8px;font-size:12.2px;color:#000">EURUSD-,Daily</div>
<div class="t" style="left:220.9px;top:549.8px;font-size:12.2px;color:#707070">AUDUSD-,Daily</div>
<div class="t" style="left:331.2px;top:549.8px;font-size:12.2px;color:#707070">USDCHF-,Daily</div>
<div class="t" style="left:438.7px;top:549.8px;font-size:12.2px;color:#707070">USDCAD-,Daily</div>
<div class="t" style="left:547.6px;top:549.8px;font-size:12.2px;color:#707070">USDCNH-,Daily</div>
<div class="t" style="left:658.1px;top:549.8px;font-size:12.2px;color:#707070">XAUUSD-,H4</div>
<div class="t" style="left:754.2px;top:549.8px;font-size:12.2px;color:#707070">UKOil-,H4</div>
<div class="t" style="left:834.4px;top:549.8px;font-size:12.2px;color:#707070">DJ30-,Weekly</div>
<div class="t" style="left:934.6px;top:549.8px;font-size:12.2px;color:#707070">UK100-,H1</div>
<div class="t" style="left:1019.5px;top:549.8px;font-size:12.2px;color:#707070">USOil-,H1</div>
<div class="t" style="left:1097.8px;top:549.8px;font-size:12.2px;color:#707070">HK50-,H1</div>
<svg width="30" height="14" style="left:1160px;top:549px" viewBox="0 0 30 14"><path d="M7.2 2.5v7l-3.7-3.5z" fill="#a0a0a0"/><path d="M23 2.5v7l3.7-3.5z" fill="#000"/></svg>
</div></body></html>
